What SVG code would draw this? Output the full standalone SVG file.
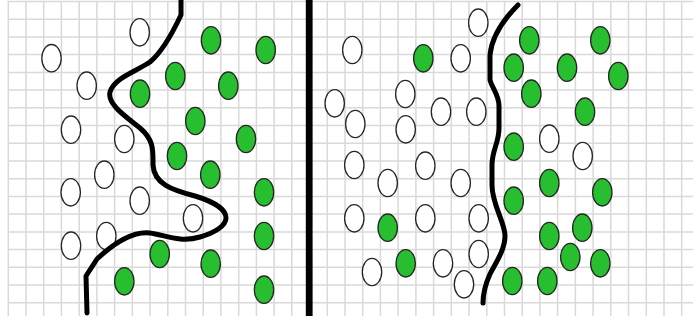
<svg xmlns="http://www.w3.org/2000/svg" width="693" height="320" viewBox="0 0 693 320">
<style>
.g{stroke:#d9d9d9;stroke-width:1.5;fill:none}
.w{fill:#ffffff;stroke:#262626;stroke-width:1.3}
.n{fill:#27bf2f;stroke:#262626;stroke-width:1.3}
.c{fill:none;stroke:#000;stroke-width:5;stroke-linecap:round;stroke-linejoin:round}
</style>
<defs>
<ellipse id="e" cx="0" cy="0" rx="9.7" ry="13.7"/>
</defs>
<rect width="693" height="320" fill="#fff"/>
<g id="grid">
<path class="g" d="M8.3,1 V316 M26,1 V316 M43.7,1 V316 M61.4,1 V316 M79.2,1 V316 M96.9,1 V316 M114.6,1 V316 M132.3,1 V316 M150,1 V316 M167.8,1 V316 M185.5,1 V316 M203.2,1 V316 M220.9,1 V316 M238.7,1 V316 M256.4,1 V316 M274.1,1 V316 M291.8,1 V316 M327.3,1 V316 M345,1 V316 M362.7,1 V316 M380.4,1 V316 M398.1,1 V316 M415.9,1 V316 M433.6,1 V316 M451.3,1 V316 M469,1 V316 M486.8,1 V316 M504.5,1 V316 M522.2,1 V316 M539.9,1 V316 M557.6,1 V316 M575.4,1 V316 M593.1,1 V316 M610.8,1 V316 M628.5,1 V316 M646.3,1 V316 M664,1 V316 M681.7,1 V316"/>
<path class="g" d="M8,1.5 H693 M8,19.2 H693 M8,36.9 H693 M8,54.6 H693 M8,72.4 H693 M8,90.1 H693 M8,107.8 H693 M8,125.5 H693 M8,143.3 H693 M8,161 H693 M8,178.7 H693 M8,196.4 H693 M8,214.1 H693 M8,231.9 H693 M8,249.6 H693 M8,267.3 H693 M8,285 H693 M8,302.8 H693"/>
</g>
<rect id="divider" x="305.8" y="0" width="6.8" height="316" fill="#000"/>
<g id="left-points">
<use href="#e" class="w" x="139.7" y="32.3"/>
<use href="#e" class="w" x="51.5" y="58.2"/>
<use href="#e" class="w" x="86.7" y="85.7"/>
<use href="#e" class="w" x="71" y="129.7"/>
<use href="#e" class="w" x="124.3" y="139"/>
<use href="#e" class="w" x="104.3" y="174.7"/>
<use href="#e" class="w" x="70.7" y="192.3"/>
<use href="#e" class="w" x="139.7" y="200.7"/>
<use href="#e" class="w" x="193" y="218.3"/>
<use href="#e" class="w" x="106.3" y="236"/>
<use href="#e" class="w" x="71" y="245.7"/>
<use href="#e" class="n" x="211" y="40.3"/>
<use href="#e" class="n" x="265.7" y="50"/>
<use href="#e" class="n" x="175.3" y="76"/>
<use href="#e" class="n" x="140" y="93.7"/>
<use href="#e" class="n" x="228.3" y="85.7"/>
<use href="#e" class="n" x="195.3" y="121"/>
<use href="#e" class="n" x="246" y="139"/>
<use href="#e" class="n" x="177" y="156"/>
<use href="#e" class="n" x="210.3" y="174.7"/>
<use href="#e" class="n" x="264" y="192.3"/>
<use href="#e" class="n" x="264" y="236"/>
<use href="#e" class="n" x="159.7" y="254"/>
<use href="#e" class="n" x="210.7" y="263.7"/>
<use href="#e" class="n" x="124.3" y="281.3"/>
<use href="#e" class="n" x="264" y="289.7"/>
</g>
<g id="right-points">
<use href="#e" class="w" x="478.3" y="22.7"/>
<use href="#e" class="w" x="352.3" y="50"/>
<use href="#e" class="w" x="460.7" y="58.3"/>
<use href="#e" class="w" x="405.3" y="94"/>
<use href="#e" class="w" x="334.7" y="103.3"/>
<use href="#e" class="w" x="441" y="111.7"/>
<use href="#e" class="w" x="476.3" y="111.7"/>
<use href="#e" class="w" x="355.3" y="124"/>
<use href="#e" class="w" x="405.7" y="129.3"/>
<use href="#e" class="w" x="549.3" y="138.7"/>
<use href="#e" class="w" x="582.7" y="156"/>
<use href="#e" class="w" x="354.3" y="165"/>
<use href="#e" class="w" x="425.3" y="165.7"/>
<use href="#e" class="w" x="387.7" y="183"/>
<use href="#e" class="w" x="460.7" y="183"/>
<use href="#e" class="w" x="354.3" y="218.3"/>
<use href="#e" class="w" x="425.3" y="218.3"/>
<use href="#e" class="w" x="478.7" y="218.3"/>
<use href="#e" class="w" x="478.7" y="254"/>
<use href="#e" class="w" x="443" y="263.3"/>
<use href="#e" class="w" x="372" y="272"/>
<use href="#e" class="w" x="464" y="284.3"/>
<use href="#e" class="n" x="529.3" y="40.3"/>
<use href="#e" class="n" x="600.3" y="40.3"/>
<use href="#e" class="n" x="423.3" y="58.3"/>
<use href="#e" class="n" x="513.7" y="67.7"/>
<use href="#e" class="n" x="567" y="67.7"/>
<use href="#e" class="n" x="618.3" y="76"/>
<use href="#e" class="n" x="531.3" y="93.7"/>
<use href="#e" class="n" x="585" y="111.7"/>
<use href="#e" class="n" x="513.7" y="146.7"/>
<use href="#e" class="n" x="549.3" y="183"/>
<use href="#e" class="n" x="602.3" y="192.3"/>
<use href="#e" class="n" x="513.7" y="200.7"/>
<use href="#e" class="n" x="387.7" y="227.7"/>
<use href="#e" class="n" x="582.3" y="227.7"/>
<use href="#e" class="n" x="549.3" y="236"/>
<use href="#e" class="n" x="570.3" y="257"/>
<use href="#e" class="n" x="405.7" y="263.3"/>
<use href="#e" class="n" x="600.3" y="263.3"/>
<use href="#e" class="n" x="512.3" y="281"/>
<use href="#e" class="n" x="547.3" y="281"/>
</g>
<g id="boundaries">
<path class="c" d="M181,0 L181,15 C173,32 162,52 150,62 C135,72 114,78 110,92 C107,104 125,116 140,128 C154,140 153,150 153,165 C154,184 172,190 195,196 C215,202 226,210 226,218 C226,226 214,233 200,237 C180,243 165,235 150,233 C132,231 112,245 97,259 L86,276 L87,313"/>
<path class="c" d="M518,5 C505,18 492,35 490,55 L490,80 C492,88 499,95 499,106 L499,128 C499,143 492,150 492,165 L492,185 C492,205 505,222 505,236 C505,250 495,264 490,274 C485,285 483,293 483,303"/>
</g>
</svg>
